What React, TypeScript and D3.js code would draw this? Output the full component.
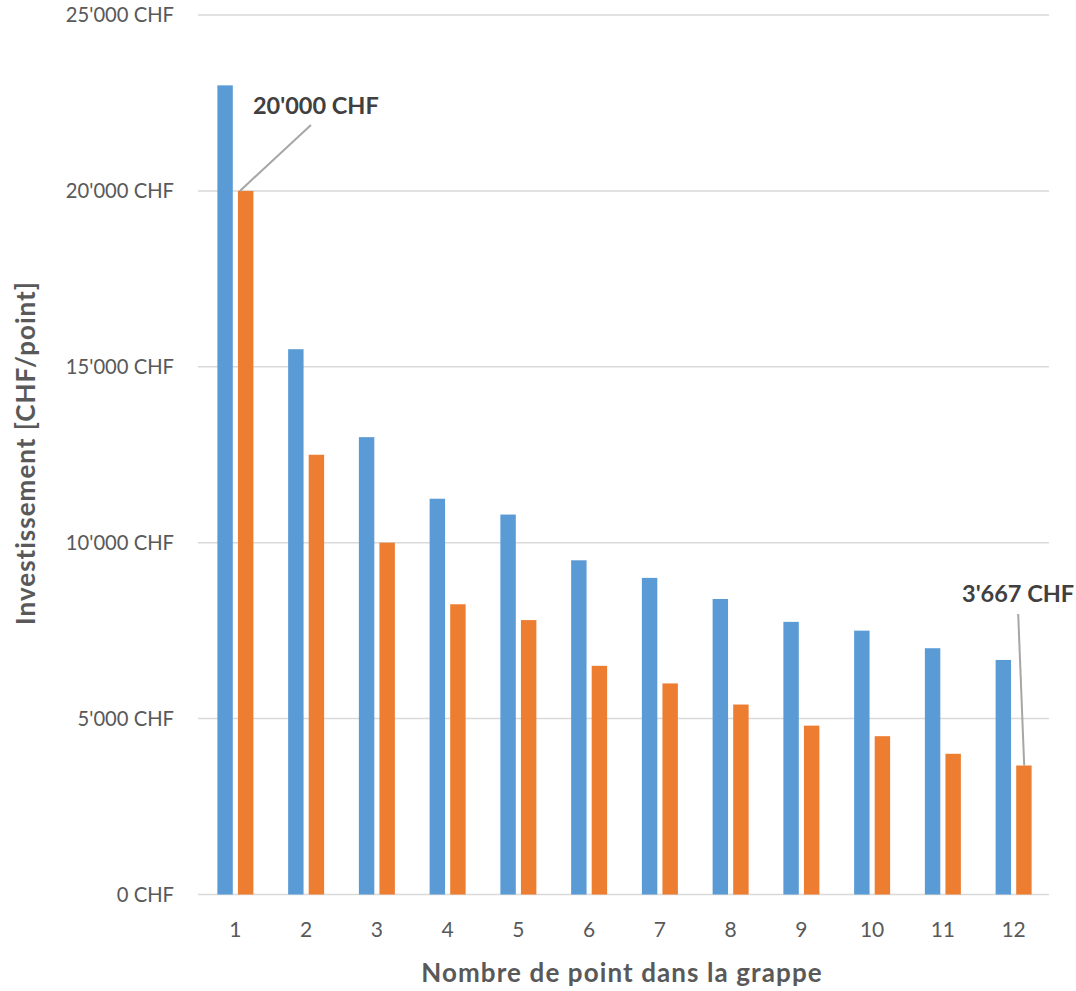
import React from "react";
import * as d3 from "d3";

const categories = ["1", "2", "3", "4", "5", "6", "7", "8", "9", "10", "11", "12"];
const seriesBlue = [23000, 15500, 13000, 11250, 10800, 9500, 9000, 8400, 7750, 7500, 7000, 6667];
const seriesOrange = [20000, 12500, 10000, 8250, 7800, 6500, 6000, 5400, 4800, 4500, 4000, 3667];
const yTicks = [0, 5000, 10000, 15000, 20000, 25000];
const yTitle = "Investissement [CHF/point]";
const xTitle = "Nombre de point dans la grappe";
const annotations = [
  { index: 0, series: "orange", value: 20000 },
  { index: 11, series: "orange", value: 3667 },
];

const W = 1076;
const H = 991;
const FONT = "Lato, 'Open Sans', sans-serif";

const fmt = (v: number) => d3.format(",.0f")(v).replace(/,/g, "'") + " CHF";

export default function App() {
  const x = d3.scaleBand<string>().domain(categories).range([200, 1049]).padding(0);
  const y = d3.scaleLinear().domain([0, 25000]).range([894.5, 15]);
  const bw = x.bandwidth();
  const x1 = d3
    .scaleBand<string>()
    .domain(["blue", "orange"])
    .range([-18, 18])
    .paddingInner(0.25);
  const colors: Record<string, string> = { blue: "#5B9BD5", orange: "#ED7D31" };

  const barX = (i: number, s: string) => (x(categories[i]) as number) + bw / 2 + (x1(s) as number);

  return (
    <svg
      width={W}
      height={H}
      style={{ position: "absolute", left: 0, top: 0, background: "#fff" }}
      fontFamily={FONT}
    >
      {/* gridlines */}
      {yTicks.map((t) => (
        <line
          key={t}
          x1={200 - 2}
          x2={1049}
          y1={y(t)}
          y2={y(t)}
          stroke="#D9D9D9"
          strokeWidth={1.5}
        />
      ))}
      {/* y tick labels */}
      {yTicks.map((t) => (
        <text
          key={"l" + t}
          x={174}
          y={y(t)}
          dy="0.35em"
          textAnchor="end"
          fontSize={20.2}
          fill="#595959"
        >
          {fmt(t)}
        </text>
      ))}
      {/* bars */}
      {categories.map((c, i) => (
        <g key={c}>
          <rect
            x={barX(i, "blue")}
            y={y(seriesBlue[i])}
            width={x1.bandwidth()}
            height={y(0) - y(seriesBlue[i])}
            fill={colors.blue}
          />
          <rect
            x={barX(i, "orange")}
            y={y(seriesOrange[i])}
            width={x1.bandwidth()}
            height={y(0) - y(seriesOrange[i])}
            fill={colors.orange}
          />
        </g>
      ))}
      {/* x tick labels */}
      {categories.map((c) => (
        <text
          key={"x" + c}
          x={(x(c) as number) + bw / 2}
          y={930}
          dy="0.35em"
          textAnchor="middle"
          fontSize={21}
          fill="#595959"
        >
          {c}
        </text>
      ))}
      {/* annotations */}
      {(() => {
        const a0 = annotations[0];
        const bx0 = barX(a0.index, a0.series) + 2;
        const by0 = y(a0.value);
        const a1 = annotations[1];
        const bx1 = barX(a1.index, a1.series) + 8;
        const by1 = y(a1.value);
        return (
          <g>
            <line x1={bx0} y1={by0} x2={bx0 + 71} y2={by0 - 66} stroke="#A6A6A6" strokeWidth={2} />
            <text x={bx0 + 13} y={106} dy="0.35em" fontSize={23.5} fontWeight="bold" fill="#404040">
              {fmt(a0.value)}
            </text>
            <line x1={bx1} y1={by1} x2={bx1 - 6} y2={614} stroke="#A6A6A6" strokeWidth={2} />
            <text x={962} y={594} dy="0.35em" fontSize={23.5} fontWeight="bold" fill="#404040">
              {fmt(a1.value)}
            </text>
          </g>
        );
      })()}
      {/* axis titles */}
      <text
        transform={`translate(26, ${453}) rotate(-90)`}
        textAnchor="middle"
        dy="0.35em"
        fontSize={26}
        letterSpacing={1}
        fontWeight="bold"
        fill="#595959"
      >
        {yTitle}
      </text>
      <text
        x={622}
        y={973}
        dy="0.35em"
        textAnchor="middle"
        fontSize={26}
        letterSpacing={1.1}
        fontWeight="bold"
        fill="#595959"
      >
        {xTitle}
      </text>
    </svg>
  );
}
